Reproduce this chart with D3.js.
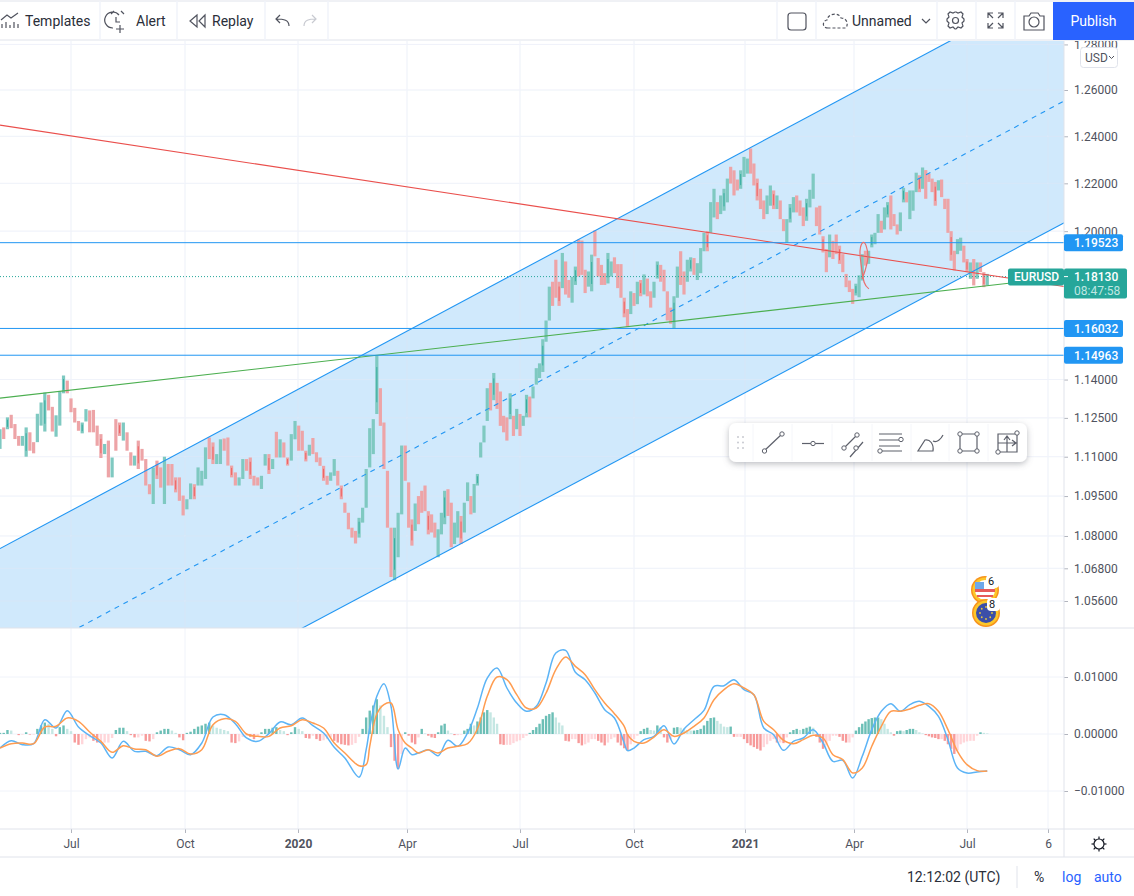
<!DOCTYPE html>
<html>
<head>
<meta charset="utf-8">
<style>
  html, body { margin: 0; padding: 0; background: #fff; }
  svg { display: block; font-family: Roboto, sans-serif; }
  .axis path.domain { display: none; }
  .axis line { stroke: #b2b5be; }
  .axis text { fill: #50535e; font-size: 12px; font-family: Roboto, sans-serif; }
  .grid line { stroke: #f0f3fa; }
  .icon { fill: none; stroke: #50535e; stroke-width: 1.2; }
</style>
</head>
<body>
<div id="chart"></div>
<script src="https://cdnjs.cloudflare.com/ajax/libs/d3/7.8.5/d3.min.js"></script>
<script>
// candles (one row = 10 bars)
const high = [
1.1206,1.1213,1.1252,1.1262,1.1226,1.1180,1.1180,1.1213,1.1194,1.1156,
1.1266,1.1310,1.1349,1.1340,1.1293,1.1260,1.1353,1.1416,1.1396,1.1326,
1.1289,1.1238,1.1232,1.1284,1.1279,1.1281,1.1220,1.1187,1.1149,1.1162,
1.1097,1.1245,1.1232,1.1232,1.1194,1.1117,1.1104,1.1162,1.1130,1.1091,
1.0995,1.1059,1.1085,1.1059,1.1100,1.1072,1.1072,1.1021,1.1021,1.0952,
1.0938,1.0998,1.0995,1.1059,1.1046,1.1136,1.1174,1.1155,1.1110,1.1167,
1.1170,1.1174,1.1066,1.1040,1.1021,1.1091,1.1091,1.1097,1.1027,1.1021,
1.1027,1.1110,1.1110,1.1091,1.1196,1.1167,1.1155,1.1097,1.1187,1.1238,
1.1220,1.1200,1.1123,1.1146,1.1172,1.1117,1.1097,1.1065,1.1027,1.1040,
1.1091,1.1046,1.0990,1.0925,1.0887,1.0831,1.0819,1.0868,1.0906,1.1053,
1.1210,1.1245,1.1496,1.1366,1.1232,1.1046,1.0831,1.0831,1.0887,1.1143,
1.1143,1.1002,1.0862,1.0922,1.0950,1.0970,1.0990,1.0893,1.0881,1.0850,
1.0825,1.0887,1.0970,1.0976,1.0925,1.0850,1.0893,1.0875,1.0925,1.1002,
1.0950,1.0996,1.1034,1.1155,1.1220,1.1366,1.1387,1.1426,1.1387,1.1353,
1.1258,1.1252,1.1346,1.1258,1.1285,1.1265,1.1258,1.1340,1.1333,1.1373,
1.1445,1.1464,1.1560,1.1635,1.1772,1.1792,1.1882,1.1792,1.1910,1.1875,
1.1799,1.1812,1.1854,1.1965,1.1961,1.1841,1.1834,1.1903,1.2003,1.1889,
1.1861,1.1827,1.1910,1.1875,1.1892,1.1864,1.1864,1.1727,1.1681,1.1753,
1.1746,1.1792,1.1799,1.1822,1.1805,1.1753,1.1792,1.1875,1.1861,1.1841,
1.1753,1.1687,1.1733,1.1854,1.1917,1.1834,1.1882,1.1892,1.1889,1.1868,
1.1930,1.1993,1.2000,1.2121,1.2177,1.2121,1.2149,1.2177,1.2220,1.2270,
1.2255,1.2216,1.2255,1.2312,1.2305,1.2348,1.2284,1.2220,1.2177,1.2128,
1.2149,1.2191,1.2170,1.2149,1.2128,1.2050,1.2050,1.2113,1.2142,1.2149,
1.2128,1.2099,1.2135,1.2173,1.2241,1.2099,1.2106,1.1979,1.1926,1.1986,
1.1960,1.1986,1.1940,1.1905,1.1824,1.1797,1.1763,1.1784,1.1818,1.1905,
1.1919,1.1919,1.1986,1.1993,1.2071,1.2043,1.2099,1.2121,1.2149,1.2071,
1.2028,1.2078,1.2181,1.2163,1.2170,1.2170,1.2245,1.2234,1.2267,1.2256,
1.2241,1.2220,1.2206,1.2213,1.2216,1.2135,1.2135,1.2000,1.1919,1.1967,
1.1973,1.1940,1.1885,1.1871,1.1885,1.1871,1.1871,1.1831,1.1824]

const low = [
1.1130,1.1168,1.1206,1.1210,1.1168,1.1142,1.1142,1.1100,1.1123,1.1113,
1.1156,1.1220,1.1197,1.1279,1.1197,1.1177,1.1220,1.1346,1.1346,1.1272,
1.1232,1.1200,1.1190,1.1236,1.1194,1.1194,1.1142,1.1095,1.1110,1.1021,
1.1021,1.1123,1.1180,1.1162,1.1123,1.1066,1.1066,1.1053,1.1085,1.0990,
1.0957,1.0920,1.1015,1.0982,1.0920,1.0990,1.0990,1.0964,1.0932,1.0877,
1.0900,1.0938,1.0938,1.0990,1.0990,1.1015,1.1091,1.1072,1.1072,1.1072,
1.1123,1.1066,1.1021,1.0990,1.0990,1.1015,1.1046,1.1015,1.0990,1.0990,
1.0977,1.1066,1.1034,1.1053,1.1097,1.1097,1.1097,1.1066,1.1085,1.1167,
1.1123,1.1123,1.1082,1.1104,1.1110,1.1079,1.1065,1.1008,1.0993,1.1008,
1.1027,1.0990,1.0938,1.0887,1.0825,1.0794,1.0772,1.0794,1.0850,1.0906,
1.1059,1.1110,1.1265,1.1219,1.1053,1.0831,1.0648,1.0636,1.0721,1.0881,
1.1008,1.0831,1.0764,1.0819,1.0844,1.0887,1.0893,1.0806,1.0813,1.0794,
1.0721,1.0806,1.0844,1.0875,1.0758,1.0770,1.0794,1.0770,1.0813,1.0931,
1.0881,1.0887,1.0990,1.1097,1.1155,1.1238,1.1279,1.1319,1.1285,1.1219,
1.1194,1.1162,1.1245,1.1180,1.1206,1.1180,1.1219,1.1252,1.1252,1.1326,
1.1380,1.1406,1.1430,1.1550,1.1635,1.1694,1.1727,1.1694,1.1766,1.1740,
1.1727,1.1707,1.1779,1.1813,1.1820,1.1746,1.1772,1.1753,1.1896,1.1813,
1.1779,1.1779,1.1785,1.1813,1.1827,1.1766,1.1727,1.1648,1.1609,1.1661,
1.1694,1.1701,1.1733,1.1740,1.1733,1.1687,1.1727,1.1805,1.1792,1.1753,
1.1635,1.1622,1.1602,1.1727,1.1779,1.1740,1.1792,1.1834,1.1820,1.1799,
1.1827,1.1917,1.1917,1.1993,1.2057,1.2050,1.2071,1.2085,1.2120,1.2199,
1.2149,1.2170,1.2177,1.2227,1.2241,1.2241,1.2191,1.2128,1.2092,1.2050,
1.2071,1.2106,1.2092,1.2092,1.2050,1.2000,1.1951,1.2036,1.2078,1.2078,
1.2064,1.2021,1.2043,1.2099,1.2135,1.2021,1.1986,1.1912,1.1831,1.1892,
1.1885,1.1905,1.1865,1.1831,1.1770,1.1750,1.1702,1.1736,1.1729,1.1797,
1.1858,1.1865,1.1933,1.1946,1.1993,1.1993,1.2007,1.2057,1.2007,1.2021,
1.1986,1.2000,1.2120,1.2120,1.2050,1.2085,1.2163,1.2163,1.2177,1.2135,
1.2206,1.2163,1.2106,1.2170,1.2142,1.2092,1.1993,1.1878,1.1838,1.1905,
1.1919,1.1871,1.1831,1.1804,1.1777,1.1804,1.1831,1.1770,1.1777]

const close = [
1.1190,1.1175,1.1245,1.1218,1.1172,1.1150,1.1170,1.1200,1.1130,1.1118,
1.1255,1.1290,1.1330,1.1290,1.1210,1.1240,1.1340,1.1400,1.1360,1.1285,
1.1240,1.1205,1.1225,1.1275,1.1200,1.1205,1.1150,1.1110,1.1140,1.1040,
1.1090,1.1180,1.1190,1.1220,1.1135,1.1075,1.1095,1.1060,1.1095,1.0998,
1.0965,1.1045,1.1030,1.0995,1.1085,1.1000,1.1020,1.0975,1.0940,1.0885,
1.0930,1.0985,1.0945,1.1050,1.1040,1.1125,1.1100,1.1085,1.1100,1.1160,
1.1135,1.1080,1.1030,1.1000,1.1015,1.1080,1.1060,1.1030,1.1000,1.1005,
1.1020,1.1100,1.1045,1.1085,1.1120,1.1150,1.1105,1.1075,1.1175,1.1225,
1.1140,1.1130,1.1090,1.1135,1.1115,1.1085,1.1075,1.1015,1.1000,1.1035,
1.1080,1.0995,1.0945,1.0895,1.0835,1.0800,1.0780,1.0860,1.0900,1.1040,
1.1200,1.1215,1.1420,1.1240,1.1070,1.0850,1.0665,1.0820,1.0870,1.1110,
1.1020,1.0850,1.0775,1.0900,1.0860,1.0900,1.0905,1.0820,1.0830,1.0800,
1.0810,1.0880,1.0960,1.0890,1.0770,1.0820,1.0885,1.0780,1.0910,1.0990,
1.0890,1.0985,1.1030,1.1150,1.1205,1.1340,1.1295,1.1410,1.1300,1.1235,
1.1200,1.1180,1.1340,1.1195,1.1275,1.1195,1.1250,1.1335,1.1265,1.1365,
1.1430,1.1445,1.1540,1.1625,1.1740,1.1705,1.1790,1.1710,1.1880,1.1780,
1.1735,1.1800,1.1840,1.1850,1.1830,1.1760,1.1810,1.1880,1.1915,1.1825,
1.1790,1.1790,1.1880,1.1855,1.1835,1.1780,1.1745,1.1665,1.1620,1.1740,
1.1710,1.1780,1.1745,1.1810,1.1750,1.1700,1.1780,1.1865,1.1800,1.1770,
1.1650,1.1635,1.1720,1.1840,1.1795,1.1755,1.1870,1.1870,1.1830,1.1860,
1.1920,1.1980,1.1930,1.2100,1.2170,1.2065,1.2125,1.2170,1.2205,1.2215,
1.2170,1.2190,1.2250,1.2300,1.2290,1.2255,1.2205,1.2145,1.2110,1.2065,
1.2135,1.2180,1.2105,1.2135,1.2065,1.2015,1.2005,1.2090,1.2130,1.2095,
1.2075,1.2035,1.2120,1.2160,1.2200,1.2035,1.2000,1.1925,1.1850,1.1970,
1.1900,1.1925,1.1880,1.1850,1.1780,1.1760,1.1720,1.1770,1.1810,1.1900,
1.1870,1.1910,1.1980,1.1980,1.2055,1.2005,1.2090,1.2115,1.2030,1.2035,
1.2000,1.2070,1.2165,1.2130,1.2150,1.2160,1.2235,1.2175,1.2250,1.2150,
1.2210,1.2180,1.2125,1.2205,1.2150,1.2105,1.2005,1.1900,1.1850,1.1950,
1.1960,1.1885,1.1845,1.1860,1.1790,1.1860,1.1845,1.1785,1.1813]

const histogram = [
.0002,.0002,.0007,.0006,0,-.0002,-.0001,.0003,-.0001,-.0001,
.0009,.0015,.002,.0018,.0009,-.0004,.0012,.0015,.0009,.0005,
-.0015,-.0019,-.0018,-.0009,-.0006,-.0012,-.0015,-.0015,-.0015,-.0015,
-.0007,.0007,.0011,.0011,.0005,-.0002,-.0006,-.0006,-.0003,-.0012,
-.0013,-.0009,.0003,.0006,.0009,.0009,.0006,.0002,-.0006,-.0011,
.0002,.0004,.0009,.0013,.0015,.0018,.002,.0015,.0011,.0009,
.0007,.0005,-.0015,-.0016,-.0013,-.0005,-.0003,-.0005,-.0009,-.0003,
.0003,.0009,.0009,.0011,.0012,.0007,.0005,-.0002,.0003,.0012,
.0009,.0005,-.0007,-.0008,-.0003,-.0009,-.0012,-.0011,-.0009,-.0006,
-.0012,-.0015,-.0018,-.0019,-.002,-.0019,-.0016,-.0005,.0009,.0029,
.0041,.005,.0061,.005,.0032,.0012,-.0023,-.0047,-.0061,-.0035,
.0003,-.0003,-.0015,-.0018,-.0006,.0009,.0001,-.0003,-.0006,-.0007,
.0003,.0015,.0018,.0006,.0001,-.0002,-.0002,-.0001,.0006,.0009,
.0018,.0015,.0022,.0029,.0038,.0042,.0038,.0029,.0018,-.0018,
-.0019,-.0019,-.0019,-.0016,-.0013,-.0011,-.0007,-.0003,.0002,.0007,
.0012,.0018,.0026,.0032,.0035,.0038,.0029,.002,.0015,-.0012,
-.0013,-.0009,-.0009,-.0016,-.002,-.0018,-.0015,-.0009,-.0009,-.0012,
-.0015,-.002,-.0015,-.0009,-.0006,-.0015,-.002,-.0025,-.0029,-.0018,
-.0009,-.0003,.0005,.0009,.0011,.0007,.0006,.0015,.0012,-.0006,
-.0015,-.0009,.0011,.0012,.0011,.0009,.0007,.0006,.0006,.0007,
.0009,.0015,.0023,.0028,.0029,.0023,.0018,.0013,.0012,.0013,
-.0005,-.0005,-.0005,-.0009,-.0016,-.002,-.0023,-.0026,-.0029,-.0023,
-.0018,-.0012,-.0009,-.0015,-.0015,-.0016,-.0006,.0003,.0007,.0009,
.0007,.0009,.0011,.0013,.0011,-.0005,-.0015,-.0026,-.002,-.0012,
-.0003,-.0003,-.0005,-.0012,-.0015,-.0015,-.0006,.0006,.0012,.0018,
.0022,.0026,.0028,.0029,.0029,.0026,.0018,.0009,.0003,-.0003,
.0005,.0006,.0005,.0007,.0009,.0009,.0007,.0003,.0001,-.0002,
-.0004,-.0006,-.0007,-.0009,-.0009,-.0012,-.0018,-.0026,-.0035,-.0029,
-.0018,-.0015,-.0013,-.0012,-.0012,-.0003,.0003,.0002,.0001]

// the two oscillator lines are sampled at these bars
const macdBars = [0,3,6,9,12,15,18,21,24,27,30,33,36,39,42,45,48,51,54,57,60,63,66,69,72,75,78,81,84,87,90,93,97,99,100,102,104,106,108,110,112,114,
117,120,123,126,129,132,135,138,141,144,147,150,153,156,159,162,165,168,171,174,177,178,180,183,186,189,192,195,198,201,204,207,210,213,216,219,222,225,228,231,234,237,240,243,246,249,252,255,258,261,264,267,270,273,276,279,282,285,288]
const macd = [-.00246,-.00117,-.00187,-.0017,.00251,.00105,.00409,.00123,-.00029,-.00158,-.00421,-.00129,-.00304,-.00304,-.0038,-.00228,-.00275,-.00363,-.00158,.00298,.00339,.00181,-.0007,-.00129,.00006,.00211,.00164,.00281,.00146,.00018,-.00234,-.00421,-.00757,-.00275,.00105,.00661,.00883,.00485,-.00614,-.00246,-.00363,-.00333,
-.00275,-.0038,-.00111,-.00216,.00018,.00456,.00982,.01158,.00807,.00544,.00398,.00485,.00895,.01421,.01468,.01082,.00953,.00719,.00427,.00281,-.00158,-.00292,-.00246,-.00099,-.00041,.00146,-.00175,.00088,.00251,.00415,.00836,.00848,.00953,.00778,.0069,.00105,-.00012,-.00287,-.00129,-.0007,.00076,-.00158,-.0048,-.00462,-.00772,-.00392,.00076,.00398,.00532,.00398,.00515,.00573,.00485,.0031,-.00099,-.00596,-.00684,-.00667,-.00649]
const signal = [-.00246,-.0017,-.00158,-.0017,.00123,.00135,.00281,.00222,.00035,-.00129,-.00322,-.00205,-.00263,-.00275,-.00392,-.00304,-.00257,-.00351,-.00275,.00164,.00269,.00222,0,-.00041,-.00041,.00105,.00146,.00251,.00193,.00105,-.00158,-.00333,-.00556,-.00538,-.00216,.00351,.00515,.00544,.00076,-.00158,-.00246,-.00333,
-.00275,-.00333,-.00246,-.00216,-.0017,.00088,.00661,.01,.00953,.0069,.00456,.00456,.00719,.01129,.01351,.01187,.01041,.00778,.00544,.00357,.00135,-.00012,-.00129,-.00158,-.00053,.00076,-.00041,.00018,.00135,.00281,.00602,.00778,.00883,.00807,.0069,.00222,.00076,-.00111,-.0017,-.00099,-.00023,-.0007,-.00363,-.0045,-.00684,-.00596,-.00216,.00135,.00398,.00398,.00439,.00503,.00532,.00398,.00076,-.00304,-.00538,-.00643,-.00649]

// axis labels and the bars they sit on
const timeTicks = [19,49.5,79.8,110.5,145,180,213.3,246.4,282,306]
const timeLabels = ['Jul','Oct','2020','Apr','Jul','Oct','2021','Apr','Jul','6']
const priceTicks = [1.28,1.26,1.24,1.22,1.20,1.14,1.125,1.11,1.095,1.08,1.068,1.056]
const macdTicks = [0.01,0,-0.01]

// drawings on the chart, in [bar, price]
const channelBars = [0,311]
const channelTop = [1.0753,1.309]
const channelMid = [1.0312,1.2554]
const channelBottom = [0.9896,1.2036]
const redBars = [0,311]
const redPrices = [1.2448,1.1772]
const greenBars = [0,295]
const greenPrices = [1.1327,1.1787]
const levels = [1.19523,1.16032,1.14963]
const lastPrice = 1.1813
const brushBars = [251.1,249.6,248.6,248.3,249.2,250.2,250.8,249.9,248.9]
const brushPrices = [1.1763,1.179,1.1865,1.192,1.1953,1.194,1.1892,1.1838,1.1804]

const W = 1134, H = 896
const paneR = 1064, priceTop = 41, priceBottom = 628, macdBottom = 829, timeBottom = 857

const svg = d3.select('#chart').append('svg').attr('width', W).attr('height', H)
  .attr('viewBox', `0 0 ${W} ${H}`)

const defs = svg.append('defs')
defs.append('clipPath').attr('id', 'price-clip').append('rect')
  .attr('x', 0).attr('y', priceTop).attr('width', paneR).attr('height', priceBottom - priceTop)
defs.append('clipPath').attr('id', 'macd-clip').append('rect')
  .attr('x', 0).attr('y', priceBottom).attr('width', paneR).attr('height', macdBottom - priceBottom)
defs.append('filter').attr('id', 'float-shadow').attr('x', '-10%').attr('y', '-30%').attr('width', '120%').attr('height', '170%')
  .append('feDropShadow').attr('dx', 0).attr('dy', 2).attr('stdDeviation', 3).attr('flood-color', '#6a6d78').attr('flood-opacity', .45)

const x = d3.scaleLinear().domain(timeTicks).range([71,185,298,407,520,634,745,854,967,1048])
const y = d3.scaleLog().domain([1.26,1.056]).range([90,601])
const yMacd = d3.scaleLinear().domain([0.01,-0.01]).range([677,791])

// grid
const grid = svg.append('g').attr('class', 'grid')
grid.selectAll('.v').data(timeTicks).enter().append('line').attr('class', 'v')
  .attr('x1', d => x(d)).attr('x2', d => x(d)).attr('y1', priceTop).attr('y2', macdBottom)
grid.selectAll('.h').data(priceTicks).enter().append('line').attr('class', 'h')
  .attr('x1', 0).attr('x2', paneR).attr('y1', d => y(d)).attr('y2', d => y(d))
grid.selectAll('.m').data(macdTicks).enter().append('line').attr('class', 'm')
  .attr('x1', 0).attr('x2', paneR).attr('y1', d => yMacd(d)).attr('y2', d => yMacd(d))

const price = svg.append('g').attr('clip-path', 'url(#price-clip)')

// channel fill goes under the candles
const channelArea = d3.area()
  .x((d, i) => x(channelBars[i]))
  .y0((d, i) => y(channelBottom[i]))
  .y1((d, i) => y(channelTop[i]))
price.append('path').datum(channelBars).attr('d', channelArea).attr('fill', '#2196f3').attr('fill-opacity', .21)
grid.clone(true).attr('opacity', .5).each(function () { price.node().appendChild(this) })

// candles
const upFill = '#7fc9c1', downFill = '#eda4a7'
const isUp = i => close[i] > (high[i] + low[i]) / 2
price.append('g').selectAll('rect').data(high).enter().append('rect')
  .attr('x', (d, i) => x(i) - 1.6).attr('width', 3.2)
  .attr('y', d => y(d)).attr('height', (d, i) => y(low[i]) - y(d))
  .attr('fill', (d, i) => isUp(i) ? upFill : downFill)
// resampled candles leave a darker core on some bars
price.append('g').selectAll('line').data(high.filter((d, i) => i % 5 === 2)).enter().append('line')
  .attr('x1', (d, i) => x(i * 5 + 2)).attr('x2', (d, i) => x(i * 5 + 2))
  .attr('y1', (d, i) => y(d) + (y(low[i * 5 + 2]) - y(d)) * .2)
  .attr('y2', (d, i) => y(d) + (y(low[i * 5 + 2]) - y(d)) * .8)
  .attr('stroke', (d, i) => isUp(i * 5 + 2) ? '#26a69a' : '#ef5350').attr('stroke-opacity', .8)

// last price dotted line
price.append('line').attr('x1', 0).attr('x2', paneR).attr('y1', y(lastPrice)).attr('y2', y(lastPrice))
  .attr('stroke', '#26a69a').attr('stroke-dasharray', '1 2')

// drawings
const twoPoint = (bars, prices, colour, dash) => price.append('line')
  .attr('x1', x(bars[0])).attr('y1', y(prices[0])).attr('x2', x(bars[1])).attr('y2', y(prices[1]))
  .attr('stroke', colour).attr('stroke-width', 1.1).attr('stroke-dasharray', dash || null)
twoPoint(channelBars, channelTop, '#2196f3')
twoPoint(channelBars, channelBottom, '#2196f3')
twoPoint(channelBars, channelMid, '#2196f3', '5 5')
twoPoint(redBars, redPrices, '#ea4f4c')
twoPoint(greenBars, greenPrices, '#4caf50')
price.selectAll('.level').data(levels).enter().append('line').attr('class', 'level')
  .attr('x1', 0).attr('x2', paneR).attr('y1', d => y(d)).attr('y2', d => y(d))
  .attr('stroke', '#2196f3')
price.append('path').datum(brushBars)
  .attr('d', d3.line().x(d => x(d)).y((d, i) => y(brushPrices[i])).curve(d3.curveCardinal))
  .attr('fill', 'none').attr('stroke', '#ea6f6d').attr('stroke-width', 1.2)

// macd pane
const macdPane = svg.append('g').attr('clip-path', 'url(#macd-clip)')
const histColour = (d, i) => {
  const rising = i === 0 || d >= histogram[i - 1]
  if (d >= 0) return rising ? '#6cbfb6' : '#c5e7e3'
  return rising ? '#ffd6da' : '#f79a9a'
}
macdPane.append('g').selectAll('rect').data(histogram).enter().append('rect')
  .attr('x', (d, i) => x(i) - 1.2).attr('width', 2.4)
  .attr('y', d => yMacd(Math.max(0, d)))
  .attr('height', d => Math.abs(yMacd(d) - yMacd(0)))
  .attr('fill', histColour)
const macdLine = vals => d3.line().x(d => x(d)).y((d, i) => yMacd(vals[i])).curve(d3.curveCatmullRom)(macdBars)
macdPane.append('path').attr('d', macdLine(macd)).attr('fill', 'none').attr('stroke', '#5cb4f6').attr('stroke-width', 1.5)
macdPane.append('path').attr('d', macdLine(signal)).attr('fill', 'none').attr('stroke', '#ff9c50').attr('stroke-width', 1.5)

// axes
const priceAxis = svg.append('g').attr('class', 'axis').attr('transform', `translate(${paneR},0)`)
  .call(d3.axisRight(y).tickValues(priceTicks).tickSize(4).tickPadding(6).tickFormat(d3.format('.5f')))
const macdAxis = svg.append('g').attr('class', 'axis').attr('transform', `translate(${paneR},0)`)
  .call(d3.axisRight(yMacd).tickValues(macdTicks).tickSize(4).tickPadding(6).tickFormat(d => d === 0 ? '0.00000' : (d < 0 ? '\u22120.01000' : '0.01000')))
const timeAxis = svg.append('g').attr('class', 'axis').attr('transform', `translate(0,${macdBottom})`)
  .call(d3.axisBottom(x).tickValues(timeTicks).tickSize(4).tickPadding(6).tickFormat((d, i) => timeLabels[i]))
timeAxis.selectAll('text').attr('font-weight', (d, i) => /^20/.test(timeLabels[i]) ? 700 : null)

// pane borders
const borders = svg.append('g').attr('stroke', '#e0e3eb')
borders.append('line').attr('x1', 0).attr('x2', W).attr('y1', priceBottom).attr('y2', priceBottom)
borders.append('line').attr('x1', 0).attr('x2', W).attr('y1', macdBottom).attr('y2', macdBottom)
borders.append('line').attr('x1', 0).attr('x2', W).attr('y1', timeBottom).attr('y2', timeBottom)
borders.append('line').attr('x1', paneR).attr('x2', paneR).attr('y1', priceTop).attr('y2', timeBottom)

// price labels on the scale
const labels = svg.append('g')
labels.selectAll('rect').data(levels).enter().append('rect')
  .attr('x', paneR).attr('y', d => y(d) - 8.5).attr('width', 59).attr('height', 17).attr('rx', 2).attr('fill', '#2196f3')
labels.selectAll('text').data(levels).enter().append('text')
  .attr('x', paneR + 10).attr('y', d => y(d) + 4.5).attr('fill', '#fff').attr('font-size', 12).attr('font-weight', 500)
  .text(d => d3.format('.5f')(d))
const lastY = y(lastPrice)
labels.append('rect').attr('x', paneR - 56).attr('y', lastY - 8).attr('width', 56).attr('height', 17).attr('rx', 2).attr('fill', '#26a69a')
labels.append('text').attr('x', paneR - 50).attr('y', lastY + 4.5).attr('fill', '#fff').attr('font-size', 12).attr('font-weight', 500).text('EURUSD')
labels.append('rect').attr('x', paneR).attr('y', lastY - 8).attr('width', 63).attr('height', 30).attr('rx', 2).attr('fill', '#26a69a')
labels.append('line').attr('x1', paneR).attr('x2', paneR + 4).attr('y1', lastY).attr('y2', lastY).attr('stroke', '#fff')
labels.append('text').attr('x', paneR + 10).attr('y', lastY + 4.5).attr('fill', '#fff').attr('font-size', 12).attr('font-weight', 500).text(d3.format('.5f')(lastPrice))
labels.append('text').attr('x', paneR + 10).attr('y', lastY + 18).attr('fill', '#bfe6e2').attr('font-size', 12).text('08:47:58')

// event flags
const flags = svg.append('g')
const flag = (cx, cy, n, draw) => {
  const g = flags.append('g').attr('transform', `translate(${cx},${cy})`)
  g.append('circle').attr('r', 14).attr('fill', '#f7931e')
  g.append('circle').attr('r', 12.5).attr('fill', '#fcc72a')
  draw(g)
  g.append('rect').attr('x', 1).attr('y', -15).attr('width', 13).attr('height', 13).attr('rx', 4).attr('fill', '#fff')
  g.append('text').attr('x', 6).attr('y', -5).attr('font-size', 11).attr('text-anchor', 'middle').attr('fill', '#131722').text(n)
}
flag(985, 590, '6', g => {
  g.append('circle').attr('r', 10).attr('fill', '#fff')
  g.append('path').attr('d', 'M-10 -1H10V2H-10ZM-8 5H8V7H-8Z').attr('fill', '#e75a5a')
  g.append('path').attr('d', 'M-10 -8H-1V-1H-10Z').attr('fill', '#6ea8ea')
})
flag(986, 613, '8', g => {
  g.append('circle').attr('r', 10).attr('fill', '#3b4ea8')
  d3.range(8).forEach(k => g.append('circle').attr('r', .9).attr('fill', '#e8c83a')
    .attr('cx', 6 * Math.cos(k * Math.PI / 4)).attr('cy', 6 * Math.sin(k * Math.PI / 4)))
})

// top toolbar
const bar = svg.append('g')
bar.append('rect').attr('width', W).attr('height', priceTop).attr('fill', '#fff')
bar.append('line').attr('x1', 0).attr('x2', W).attr('y1', 1).attr('y2', 1).attr('stroke', '#e0e3eb')
bar.append('line').attr('x1', 0).attr('x2', W).attr('y1', 40).attr('y2', 40).attr('stroke', '#e0e3eb')
;[100,177,265,328,777,816,937,976,1015].forEach(v => bar.append('line')
  .attr('x1', v).attr('x2', v).attr('y1', 1).attr('y2', 40).attr('stroke', '#f0f3fa').attr('stroke-width', 1.5))
const toolText = (t, tx, anchor) => bar.append('text').attr('x', tx).attr('y', 26).attr('font-size', 14)
  .attr('fill', '#2a2e39').attr('text-anchor', anchor || 'start').text(t)
toolText('Templates', 25)
toolText('Alert', 136)
toolText('Replay', 212)
toolText('Unnamed', 852)
const icon = d => bar.append('path').attr('class', 'icon').attr('d', d)
icon('M1 20L7 15L11 18L18 13M2 28V24M6 28V22M10 28V25M14 28V22M18 28V24')
icon('M119 15A8 8 0 1 0 113 28M116 17V22H120M111 14L114 11M124 14L121 11M120 25V33M116 29H124')
icon('M197 15L190 21L197 27ZM205 15L199 21L205 27Z')
icon('M289 26C289 20 284 19 276 19M280 15L276 19L280 23')
bar.append('path').attr('class', 'icon').attr('stroke', '#c8cad1').attr('d', 'M304 26C304 20 309 19 316 19M312 15L316 19L312 23').style('stroke', '#c8cad1')
bar.append('rect').attr('class', 'icon').attr('x', 788).attr('y', 13).attr('width', 18).attr('height', 17).attr('rx', 3)
bar.append('path').attr('class', 'icon').attr('stroke-dasharray', '3 2')
  .attr('d', 'M828 28C822 28 822 21 827 20C828 13 839 12 841 18C846 18 849 23 846 28Z')
icon('M922 19L926 23L930 19')
icon('M956 12L958 13L961 12L963 14L962 17L964 19V21L962 23L963 26L961 28L958 27L956 29H955L953 27L950 28L948 26L949 23L947 21V19L949 17L948 14L950 12L953 13L955 12Z')
bar.append('circle').attr('class', 'icon').attr('cx', 955.5).attr('cy', 20.5).attr('r', 3)
icon('M988 18V13H993M1003 18V13H998M988 23V28H993M1003 23V28H998M988 13L993 18M1003 13L998 18M988 28L993 23M1003 28L998 23')
icon('M1024 16H1029L1031 13H1038L1040 16H1044V30H1024Z')
bar.append('circle').attr('class', 'icon').attr('cx', 1034).attr('cy', 22).attr('r', 5)
bar.append('rect').attr('x', 1053).attr('y', 2).attr('width', 81).attr('height', 38).attr('fill', '#2962ff')
bar.append('text').attr('x', 1093.5).attr('y', 26).attr('font-size', 14).attr('fill', '#fff').attr('text-anchor', 'middle').text('Publish')

// currency button
const usd = svg.append('g')
usd.append('rect').attr('x', 1080.5).attr('y', 47.5).attr('width', 37).attr('height', 20).attr('rx', 3).attr('fill', '#fff').attr('stroke', '#e0e3eb')
usd.append('text').attr('x', 1085).attr('y', 62).attr('font-size', 12).attr('fill', '#50535e').text('USD')
usd.append('path').attr('d', 'M1109 56L1111.5 58.5L1114 56').attr('fill', 'none').attr('stroke', '#50535e')

// floating drawing toolbar
const tools = svg.append('g')
tools.append('rect').attr('x', 729).attr('y', 423).attr('width', 298).attr('height', 39).attr('rx', 7)
  .attr('fill', '#fff').attr('filter', 'url(#float-shadow)')
;[753,792,832,872,911,949,988].forEach(v => tools.append('line').attr('x1', v).attr('x2', v).attr('y1', 424).attr('y2', 461).attr('stroke', '#f5f6fa'))
d3.range(3).forEach(r => d3.range(2).forEach(c => tools.append('circle')
  .attr('cx', 738 + c * 5).attr('cy', 437 + r * 5.5).attr('r', 1).attr('fill', '#c8cad1')))
const tool = d => tools.append('path').attr('class', 'icon').attr('d', d).style('stroke', '#5d606b')
const knob = (kx, ky) => tools.append('circle').attr('cx', kx).attr('cy', ky).attr('r', 2.2)
  .attr('fill', '#fff').attr('stroke', '#5d606b')
tool('M764 451L782 434'); knob(764.5, 451); knob(782, 434)
tool('M802 443.5H824'); knob(813, 443.5)
tool('M844 448L856 436M850 457L863 442'); knob(844, 448); knob(857, 435); knob(856, 448)
tool('M879 434H902M879 440H902M879 446H900M879 451H902'); knob(901, 439.5); knob(880, 451)
tool('M918 451H933C934 444 930 439 925 440ZM933 441C937 443 941 439 943 435')
tool('M960 434H977M960 451H977M960 434V451M977 434V451'); knob(960, 434); knob(977, 434); knob(960, 451); knob(977, 451)
tool('M998 434H1017V452H998ZM1007 452V436M1004 440L1007 436L1010 440M998 443H1016M1012 440L1016 443L1012 446'); knob(998, 452); knob(1017, 433)

// bottom bar
const foot = svg.append('g')
foot.append('text').attr('x', 907).attr('y', 882).attr('font-size', 14).attr('fill', '#2a2e39').text('12:12:02 (UTC)')
foot.append('line').attr('x1', 1017).attr('x2', 1017).attr('y1', 866).attr('y2', 888).attr('stroke', '#e0e3eb')
foot.append('text').attr('x', 1034).attr('y', 882).attr('font-size', 14).attr('fill', '#2a2e39').text('%')
foot.append('text').attr('x', 1062).attr('y', 882).attr('font-size', 14).attr('fill', '#2962ff').text('log')
foot.append('text').attr('x', 1094).attr('y', 882).attr('font-size', 14).attr('fill', '#2962ff').text('auto')
const gear = foot.append('g').attr('transform', 'translate(1099,844)')
gear.append('circle').attr('r', 5).attr('fill', 'none').attr('stroke', '#131722').attr('stroke-width', 1.2)
d3.range(8).forEach(k => gear.append('line')
  .attr('x1', 5 * Math.cos(k * Math.PI / 4)).attr('y1', 5 * Math.sin(k * Math.PI / 4))
  .attr('x2', 7.5 * Math.cos(k * Math.PI / 4)).attr('y2', 7.5 * Math.sin(k * Math.PI / 4))
  .attr('stroke', '#131722').attr('stroke-width', 1.2))
</script>
</body>
</html>
